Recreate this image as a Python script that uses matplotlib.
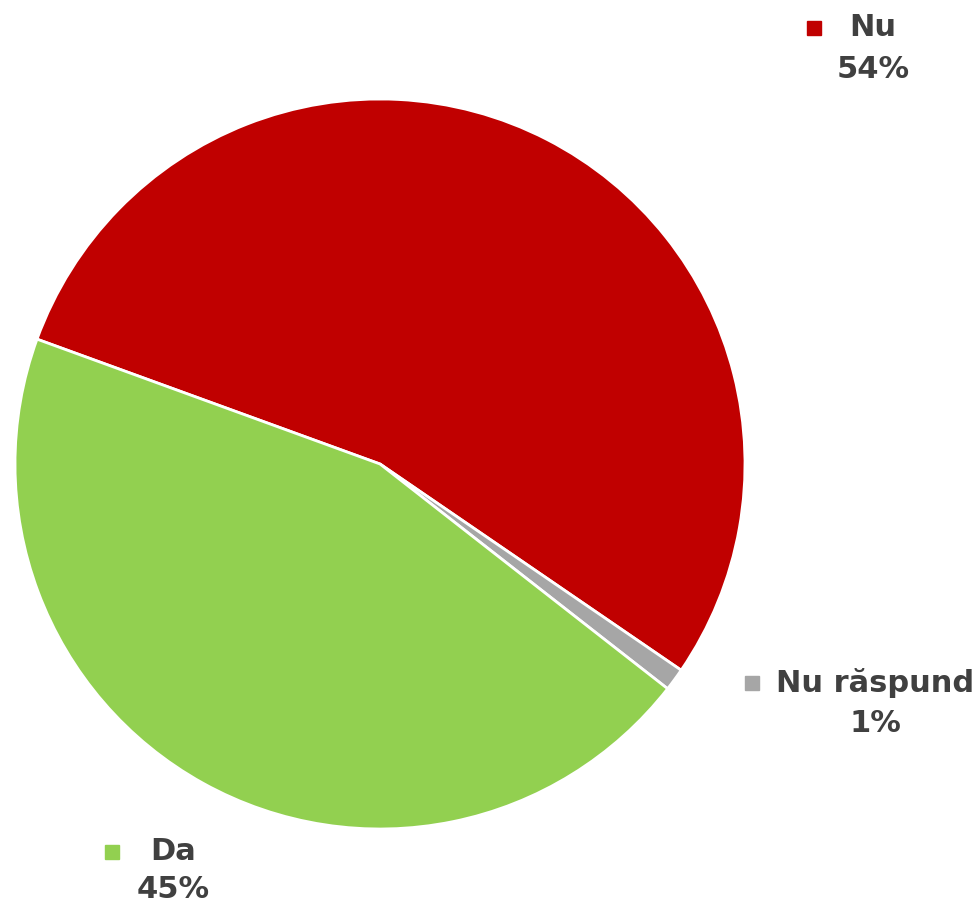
import matplotlib.pyplot as plt

labels = ['Nu', 'Nu răspund', 'Da']
values = [54, 1, 45]
colors = ['#C00000', '#A6A6A6', '#92D050']

W, H = 979, 909
fig = plt.figure(figsize=(W / 100, H / 100), dpi=100)
ax = fig.add_axes([0, 0, 1, 1])

ax.pie(values, colors=colors, startangle=160, counterclock=False,
       center=(380, H - 464), radius=365, frame=True,
       wedgeprops=dict(edgecolor='white', linewidth=2))
ax.set_xlim(0, W)
ax.set_ylim(0, H)
ax.set_aspect('equal')
ax.axis('off')

# label positions in pixels (text center x, name y, pct y, square x)
label_pos = {
    'Nu': (873, 28, 70, 814),
    'Nu răspund': (875, 683, 724, 752),
    'Da': (173, 852, 890, 112),
}
txt_color = '#404040'
for lab, val, col in zip(labels, values, colors):
    x, y1, y2, sx = label_pos[lab]
    ax.text(x, H - y1, lab, ha='center', va='center', fontsize=22,
            fontweight='bold', color=txt_color)
    ax.text(x, H - y2, f'{val}%', ha='center', va='center', fontsize=22,
            fontweight='bold', color=txt_color)
    ax.plot([sx], [H - y1], marker='s', markersize=10, color=col, linestyle='none')

fig.savefig('out.png', dpi=100)
